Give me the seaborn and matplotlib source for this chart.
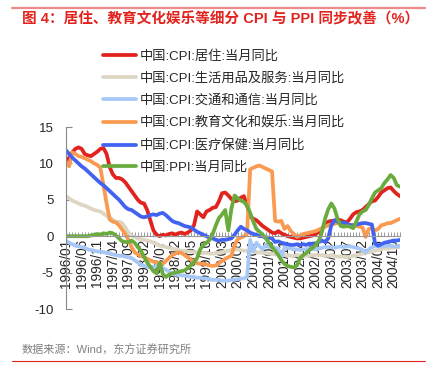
import numpy as np
import pandas as pd
import matplotlib
matplotlib.use("Agg")
import matplotlib.pyplot as plt
import seaborn as sns
from matplotlib.ticker import MultipleLocator

# monthly series, 1996/01 .. 2004/12 (108 points)
months = [f"{y}/{m:02d}" for y in range(1996, 2005) for m in range(1, 13)]

housing = [10.2, 10.8, 11.5, 12.0, 12.2, 12.0, 11.3, 11.1, 11.0, 11.3, 11.6, 12.0,
           12.1, 11.3, 9.5, 8.5, 8.0, 8.0, 7.8, 7.4, 6.8, 6.2, 5.6, 5.0,
           4.6, 4.5, 3.6, 2.2, 0.8, 0.2, 0.0, 0.2, 0.1, 0.3, 0.4, 0.2,
           0.4, 0.5, 0.3, 0.5, 0.8, 1.5, 3.4, 3.0, 2.6, 3.4, 3.6, 3.9,
           4.0, 4.8, 5.9, 6.0, 5.6, 5.1, 4.8, 4.9, 5.3, 5.5, 4.2, 2.7,
           2.4, 2.2, 1.8, 1.4, 1.1, 0.8, 0.5, 0.4, 0.7, 0.4, 0.2, 0.0,
           -0.1, -0.2, -0.3, -0.3, -0.2, -0.1, 0.0, 0.1, 0.3, 0.6, 1.0, 1.6,
           2.0, 2.1, 2.1, 2.3, 2.2, 2.0, 1.9, 2.4, 3.0, 3.3, 3.4, 3.6,
           4.0, 4.4, 4.8, 4.9, 5.4, 6.0, 6.3, 6.6, 6.7, 6.2, 5.8, 5.5]

household = [5.5, 5.2, 4.9, 4.7, 4.5, 4.3, 4.2, 4.0, 3.8, 3.6, 3.5, 3.4,
             3.1, 2.8, 2.6, 2.3, 1.9, 2.0, 1.8, 1.2, 0.5, 0.1, -0.1, -0.3,
             -0.4, -0.5, -0.6, -0.7, -0.9, -1.1, -1.3, -1.4, -1.5, -1.6, -1.7, -1.8,
             -1.9, -2.0, -2.0, -2.1, -2.1, -2.2, -2.2, -2.3, -2.3, -2.3, -2.4, -2.4,
             -2.3, -2.3, -2.2, -2.1, -2.0, -1.9, -1.8, -1.8, -1.9, -2.0, -2.0, -2.1,
             -2.1, -2.2, -2.2, -2.3, -2.3, -2.4, -2.4, -2.5, -2.5, -2.6, -2.6, -2.6,
             -2.7, -2.7, -2.6, -2.6, -2.7, -2.7, -2.7, -2.6, -2.6, -2.6, -2.6, -2.7,
             -2.7, -2.6, -2.7, -2.8, -2.8, -2.8, -2.9, -2.8, -2.7, -2.6, -2.5, -2.4,
             -2.3, -2.2, -2.1, -2.0, -1.9, -1.8, -1.7, -1.7, -1.6, -1.6, -1.5, -1.5]

transport = [-0.6, -0.9, -1.1, -1.3, -1.4, -1.5, -1.6, -1.8, -1.9, -2.0, -2.1, -2.1,
             -2.2, -2.3, -2.3, -2.5, -2.6, -2.7, -2.7, -2.8, -2.9, -3.0, -3.3, -3.6,
             -3.9, -4.1, -4.2, -4.3, -4.2, -4.1, -4.2, -4.4, -4.6, -4.9, -5.2, -5.3,
             -5.3, -5.4, -5.4, -5.5, -5.6, -5.6, -5.7, -5.7, -5.8, -5.8, -5.9, -6.0,
             -6.0, -6.0, -6.1, -6.1, -6.1, -6.0, -6.0, -5.9, -5.8, -5.8, -5.6, -0.5,
             -2.1, -0.9, -1.4, -1.8, -1.2, -1.5, -1.4, -1.6, -1.7, -2.9, -1.5, -1.6,
             -1.7, -1.8, -1.8, -1.9, -1.8, -1.8, -1.7, -1.8, -1.8, -1.7, -1.6, -1.5,
             -1.5, -1.5, -1.6, -1.5, -1.4, -1.5, -1.4, -1.4, -1.5, -1.6, -1.7, -1.9,
             -2.2, -1.8, -1.5, -1.4, -1.4, -1.4, -1.4, -1.3, -1.3, -1.4, -1.4, -1.3]

education = [10.2, 9.6, 11.5, 11.3, 11.0, 10.9, 10.7, 10.5, 10.3, 10.0, 9.8, 9.4,
             7.0, 4.5, 2.3, 2.0, 1.9, 1.5, 0.9, 0.3, -0.5, -1.5, -2.2, -2.5,
             -2.7, -2.9, -3.1, -3.3, -3.5, -3.6, -3.7, -3.8, -3.4, -3.0, -2.6, -2.4,
             -2.2, -2.3, -2.6, -2.9, -3.2, -3.5, -3.7, -3.8, -3.8, -3.9, -4.0, -4.1,
             -4.0, -3.7, -3.4, -3.1, -2.9, -2.7, -1.2, -0.4, -0.2, 0.0, 0.3, 9.2,
             9.4, 9.6, 9.7, 9.5, 9.3, 9.1, 8.9, 2.1, 2.0, 2.1, 1.0, 1.4,
             0.7, 0.3, -0.1, 0.1, 0.3, 0.4, 0.5, 0.6, 0.7, 0.9, 1.1, 1.3,
             1.5, 1.6, 1.7, 1.8, 1.8, 1.7, 1.6, 1.6, 1.5, 1.4, 1.3, 1.2,
             -0.1, 1.0, 1.1, 0.8, 1.0, 1.5, 1.6, 1.8, 1.8, 2.0, 2.2, 2.4]

health = [11.8, 11.3, 10.8, 10.4, 10.0, 9.6, 9.3, 8.9, 8.5, 8.1, 7.7, 7.3,
          7.0, 6.6, 6.2, 5.8, 5.4, 5.0, 4.5, 4.0, 3.7, 3.6, 3.3, 3.0,
          2.7, 2.6, 2.7, 2.9, 3.0, 2.9, 3.1, 3.2, 2.9, 2.5, 2.1, 1.9,
          1.8, 1.6, 1.4, 1.3, 1.2, 0.9, 0.6, 0.4, 0.2, 0.0, -0.2, -0.3,
          -0.5, -0.6, -0.5, -0.5, -0.4, -0.3, 0.2, 0.8, 1.3, 1.0, 0.8, 0.5,
          0.3, 0.2, 0.0, 0.0, -0.2, -0.2, -0.3, -0.8, -0.7, -0.9, -1.0, -1.1,
          -1.2, -1.2, -1.1, -1.2, -1.1, -1.2, -1.0, -1.1, -1.0, -0.8, -0.6, -0.8,
          -0.3, 1.5, 2.2, 2.0, 1.8, 1.9, 1.7, 1.5, 1.5, 1.6, 1.7, 1.8,
          1.8, 1.7, 1.6, -1.0, -1.3, -1.1, -0.9, -0.8, -0.7, -0.6, -0.6, -0.5]

ppi = [0.0, 0.0, 0.0, 0.0, 0.0, 0.0, 0.0, 0.0, 0.1, 0.2, 0.3, 0.2,
       0.4, 0.3, 0.5, 0.4, 0.1, -0.3, -0.7, -0.8, -0.8, -0.6, -0.9, -1.5,
       -2.0, -2.8, -3.6, -4.2, -4.8, -5.1, -3.7, -5.2, -5.6, -5.3, -5.1, -5.0,
       -4.9, -4.8, -4.7, -4.4, -4.0, -3.6, -3.0, -1.8, -1.2, -0.9, -0.5, 0.3,
       1.5, 2.5, 3.0, 3.6, 0.8, 3.8, 5.6, 5.2, 4.9, 4.7, 4.2, 3.2,
       2.0, 1.0, 0.6, 0.2, -0.3, -0.9, -1.5, -2.0, -2.6, -3.3, -3.8, -4.1,
       -4.2, -4.3, -4.0, -3.0, -2.6, -2.3, -1.9, -1.6, -1.2, -0.6, 0.6, 2.4,
       3.7, 4.5, 3.8, 2.4, 1.4, 1.3, 1.4, 1.3, 1.1, 2.0, 3.0, 3.4,
       3.6, 4.3, 5.2, 6.0, 6.3, 6.6, 7.3, 7.8, 8.4, 8.0, 7.0, 6.8]

series_names = ["中国:CPI:居住:当月同比",
                "中国:CPI:生活用品及服务:当月同比",
                "中国:CPI:交通和通信:当月同比",
                "中国:CPI:教育文化和娱乐:当月同比",
                "中国:CPI:医疗保健:当月同比",
                "中国:PPI:当月同比"]
series_vals = [housing, household, transport, education, health, ppi]
colors = ["#e2231d", "#ddd6c3", "#a7c8f7", "#fa9a50", "#4262f2", "#6aab3d"]

tick_labels = months[::5]
yticks = [-10, -5, 0, 5, 10, 15]

sns.set_theme(style="white")
plt.rcParams['font.family'] = ['Liberation Sans', 'Noto Sans CJK SC']
plt.rcParams['axes.unicode_minus'] = False

fig = plt.figure(figsize=(4.38, 3.68), dpi=100)
ax = fig.add_axes([66/438, 1 - 309/368, 334/438, 182/368])

x = np.arange(len(months))
for name, vals, c in zip(series_names, series_vals, colors):
  sns.lineplot(x=x, y=vals, ax=ax, color=c, linewidth=2.7, label=name)

# spine position first: set_position resets the ticks
for s in ['top', 'right']:
  ax.spines[s].set_visible(False)
ax.spines['bottom'].set_position(('data', 0))
ax.spines['bottom'].set_color('#999999')
ax.spines['left'].set_color('#888888')
ax.spines['left'].set_linewidth(0.8)
ax.spines['bottom'].set_linewidth(0.8)
ax.grid(False)

ax.set_xlim(0, 107)
ax.set_ylim(-10, 15)
ax.set_yticks(yticks)
ax.set_xticks(x[::5])
ax.set_xticklabels(tick_labels)
ax.xaxis.set_minor_locator(MultipleLocator(1))
ax.tick_params(axis='y', labelsize=9.5, direction='in', length=4, width=0.8,
               color='#888888', pad=9, left=True)
ax.tick_params(axis='x', which='both', direction='in', length=3, width=0.6,
               color='#888888', pad=2, bottom=True)
ax.tick_params(axis='x', which='major', labelsize=9.8, labelrotation=90)
ax.set_xlabel("")
ax.set_ylabel("")

handles, labels = ax.get_legend_handles_labels()
ax.get_legend().remove()
fig.legend(handles, labels, loc='upper left', bbox_to_anchor=(103/438, 1 - 50/368),
           frameon=False, fontsize=9.5, handlelength=2.5, handletextpad=0.3,
           labelspacing=0.73, borderpad=0, borderaxespad=0)

# title, source, frame lines
fig.text(22/438, 1 - 19/368, "图 4：居住、教育文化娱乐等细分 CPI 与 PPI 同步改善（%）",
         color='#e2231d', fontsize=10.5, fontweight='bold', va='center', ha='left')
fig.text(22/438, 1 - 350/368, "数据来源：Wind，东方证券研究所",
         color='#808080', fontsize=8, va='center', ha='left')
fig.add_artist(plt.Line2D([12/438, 425/438], [1 - 8/368, 1 - 8/368],
                          transform=fig.transFigure, color='#ef8a8a', lw=1.6))
fig.add_artist(plt.Line2D([12/438, 425/438], [1 - 361/368, 1 - 361/368],
                          transform=fig.transFigure, color='#e2231d', lw=0.8))

fig.savefig("out.png", dpi=100)
